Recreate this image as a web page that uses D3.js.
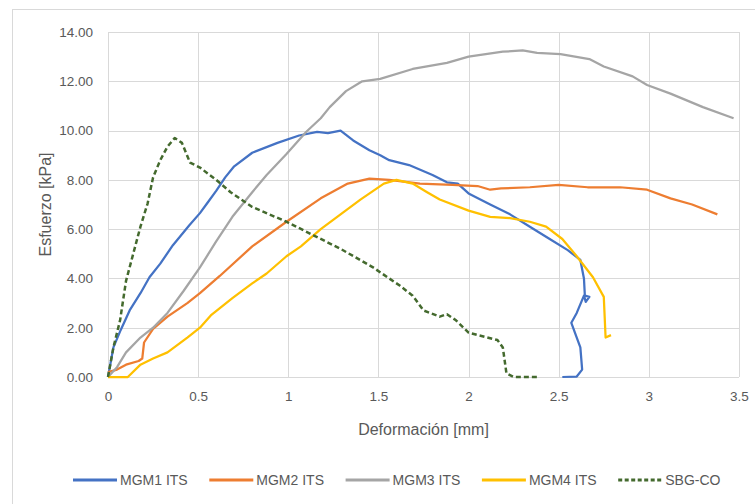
<!DOCTYPE html>
<html>
<head>
<meta charset="utf-8">
<script src="https://cdn.jsdelivr.net/npm/d3@7"></script>
<style>
  html, body { margin: 0; padding: 0; background: #fff; }
  svg { display: block; font-family: "Liberation Sans", "DejaVu Sans", sans-serif; }
</style>
</head>
<body>
<svg id="chart" width="755" height="504"></svg>
<script>
// Stress–deformation curves, [deformation mm, stress kPa] in recorded order
const mgm1 = [[0,0],[0.03,1.2],[0.07,1.9],[0.12,2.7],[0.18,3.4],[0.23,4.05],[0.29,4.6],[0.36,5.35],[0.45,6.15],[0.51,6.65],[0.55,7.05],[0.6,7.55],[0.65,8.1],[0.7,8.55],[0.8,9.1],[0.94,9.5],[1.06,9.8],[1.16,9.95],[1.22,9.9],[1.29,10.0],[1.36,9.6],[1.45,9.2],[1.51,9.0],[1.56,8.8],[1.67,8.6],[1.8,8.2],[1.88,7.9],[1.94,7.85],[2.0,7.45],[2.12,7.0],[2.23,6.6],[2.34,6.1],[2.45,5.6],[2.55,5.15],[2.62,4.75],[2.64,4.0],[2.645,3.3],[2.67,3.25],[2.65,3.05],[2.64,3.3],[2.6,2.6],[2.57,2.2],[2.6,1.6],[2.62,1.2],[2.63,0.3],[2.6,0.02],[2.52,0]];
const mgm2 = [[0,0.2],[0.05,0.3],[0.1,0.5],[0.17,0.65],[0.19,0.75],[0.2,1.4],[0.25,1.95],[0.33,2.45],[0.44,3.0],[0.51,3.4],[0.62,4.1],[0.8,5.3],[0.99,6.3],[1.18,7.25],[1.33,7.85],[1.45,8.05],[1.56,8.0],[1.73,7.85],[1.91,7.8],[2.05,7.75],[2.12,7.6],[2.18,7.65],[2.34,7.7],[2.5,7.8],[2.66,7.7],[2.84,7.7],[2.99,7.6],[3.12,7.25],[3.24,7.0],[3.38,6.6]];
const mgm3 = [[0,0],[0.05,0.4],[0.1,1.0],[0.18,1.6],[0.25,2.0],[0.33,2.6],[0.42,3.5],[0.51,4.45],[0.6,5.5],[0.69,6.5],[0.8,7.5],[0.88,8.2],[0.99,9.05],[1.1,9.95],[1.18,10.5],[1.23,10.95],[1.32,11.6],[1.41,12.0],[1.51,12.1],[1.69,12.5],[1.88,12.75],[2.0,13.0],[2.19,13.2],[2.3,13.25],[2.38,13.15],[2.51,13.1],[2.67,12.9],[2.75,12.6],[2.91,12.2],[2.99,11.85],[3.12,11.5],[3.3,10.95],[3.47,10.5]];
const mgm4 = [[0,0],[0.11,0],[0.18,0.5],[0.25,0.75],[0.33,1.0],[0.44,1.6],[0.51,2.0],[0.57,2.5],[0.69,3.2],[0.8,3.8],[0.88,4.2],[0.99,4.9],[1.07,5.3],[1.18,6.0],[1.29,6.6],[1.4,7.2],[1.53,7.85],[1.6,8.0],[1.69,7.85],[1.77,7.5],[1.84,7.2],[2.0,6.75],[2.12,6.5],[2.23,6.45],[2.34,6.3],[2.43,6.1],[2.52,5.6],[2.6,4.9],[2.69,4.05],[2.75,3.25],[2.76,1.6],[2.79,1.7]];
const sbgco = [[0,0],[0.03,1.2],[0.067,2.3],[0.1,3.9],[0.14,5.0],[0.18,6.1],[0.22,7.05],[0.25,8.1],[0.29,8.8],[0.33,9.35],[0.37,9.7],[0.41,9.5],[0.455,8.7],[0.51,8.5],[0.6,8.0],[0.68,7.5],[0.8,6.9],[0.99,6.3],[1.14,5.75],[1.29,5.2],[1.47,4.45],[1.62,3.7],[1.69,3.3],[1.75,2.7],[1.84,2.45],[1.88,2.55],[1.93,2.3],[2.0,1.8],[2.16,1.5],[2.19,1.2],[2.21,0.15],[2.25,0],[2.38,0]];

const seriesNames = ["MGM1 ITS", "MGM2 ITS", "MGM3 ITS", "MGM4 ITS", "SBG-CO"];
const seriesData = [mgm1, mgm2, mgm3, mgm4, sbgco];
const seriesColors = ["#4472C4", "#ED7D31", "#A5A5A5", "#FFC000", "#446A2E"];
const seriesDash = [null, null, null, null, "5,3"];

const xTicks = [0, 0.5, 1, 1.5, 2, 2.5, 3, 3.5];
const yTicks = [0, 2, 4, 6, 8, 10, 12, 14];
const xTitle = "Deformación [mm]";
const yTitle = "Esfuerzo [kPa]";

const svg = d3.select("#chart");
const plot = { left: 108, right: 739, top: 32, bottom: 377 };

const x = d3.scaleLinear().domain([0, 3.5]).range([plot.left, plot.right]);
const y = d3.scaleLinear().domain([0, 14]).range([plot.bottom, plot.top]);

// chart area frame
svg.append("rect")
  .attr("x", 12.5).attr("y", 9.5)
  .attr("width", 760).attr("height", 520)
  .attr("fill", "#fff").attr("stroke", "#d9d9d9");

// gridlines
const grid = svg.append("g").attr("stroke", "#d9d9d9").attr("stroke-width", 1);
grid.selectAll("line.v").data(xTicks).join("line")
  .attr("x1", d => Math.round(x(d)) + 0.5).attr("x2", d => Math.round(x(d)) + 0.5)
  .attr("y1", plot.top).attr("y2", plot.bottom);
grid.selectAll("line.h").data(yTicks).join("line")
  .attr("y1", d => Math.round(y(d)) + 0.5).attr("y2", d => Math.round(y(d)) + 0.5)
  .attr("x1", plot.left).attr("x2", plot.right);

// axes (labels only, lines come from the grid)
const xAxis = svg.append("g")
  .attr("transform", `translate(0,${plot.bottom + 11})`)
  .call(d3.axisBottom(x).tickValues(xTicks).tickSize(0).tickFormat(d3.format("")));
const yAxis = svg.append("g")
  .attr("transform", `translate(${plot.left - 12},0)`)
  .call(d3.axisLeft(y).tickValues(yTicks).tickSize(0).tickFormat(d3.format(".2f")));
[xAxis, yAxis].forEach(a => {
  a.select(".domain").remove();
  a.selectAll("text").attr("fill", "#595959").style("font-size", "13.5px")
    .style("font-family", "'Liberation Sans', sans-serif");
});

// curves
const line = d3.line().x(d => x(d[0])).y(d => y(d[1]));
svg.append("g").selectAll("path").data(seriesData).join("path")
  .attr("d", line)
  .attr("fill", "none")
  .attr("stroke", (d, i) => seriesColors[i])
  .attr("stroke-width", (d, i) => i === 4 ? 2.5 : 2.25)
  .attr("stroke-dasharray", (d, i) => seriesDash[i])
  .attr("stroke-linejoin", "round");

// axis titles
svg.append("text")
  .attr("x", (plot.left + plot.right) / 2).attr("y", 435)
  .attr("text-anchor", "middle").attr("fill", "#595959")
  .style("font-size", "16px").text(xTitle);
svg.append("text")
  .attr("transform", `translate(51,${(plot.top + plot.bottom) / 2}) rotate(-90)`)
  .attr("text-anchor", "middle").attr("fill", "#595959")
  .style("font-size", "16px").text(yTitle);

// legend
const legend = svg.append("g").attr("transform", "translate(73,480)");
const item = legend.selectAll("g").data(seriesNames).join("g")
  .attr("transform", (d, i) => `translate(${i * 136.3},0)`);
item.append("line")
  .attr("x1", 0).attr("x2", 44).attr("y1", 0).attr("y2", 0)
  .attr("stroke", (d, i) => seriesColors[i])
  .attr("stroke-width", 3)
  .attr("stroke-dasharray", (d, i) => seriesDash[i] ? "4,2.5" : null);
item.append("text")
  .attr("x", 47).attr("y", 5)
  .attr("fill", "#595959").style("font-size", "14px")
  .text(d => d);
</script>
</body>
</html>
